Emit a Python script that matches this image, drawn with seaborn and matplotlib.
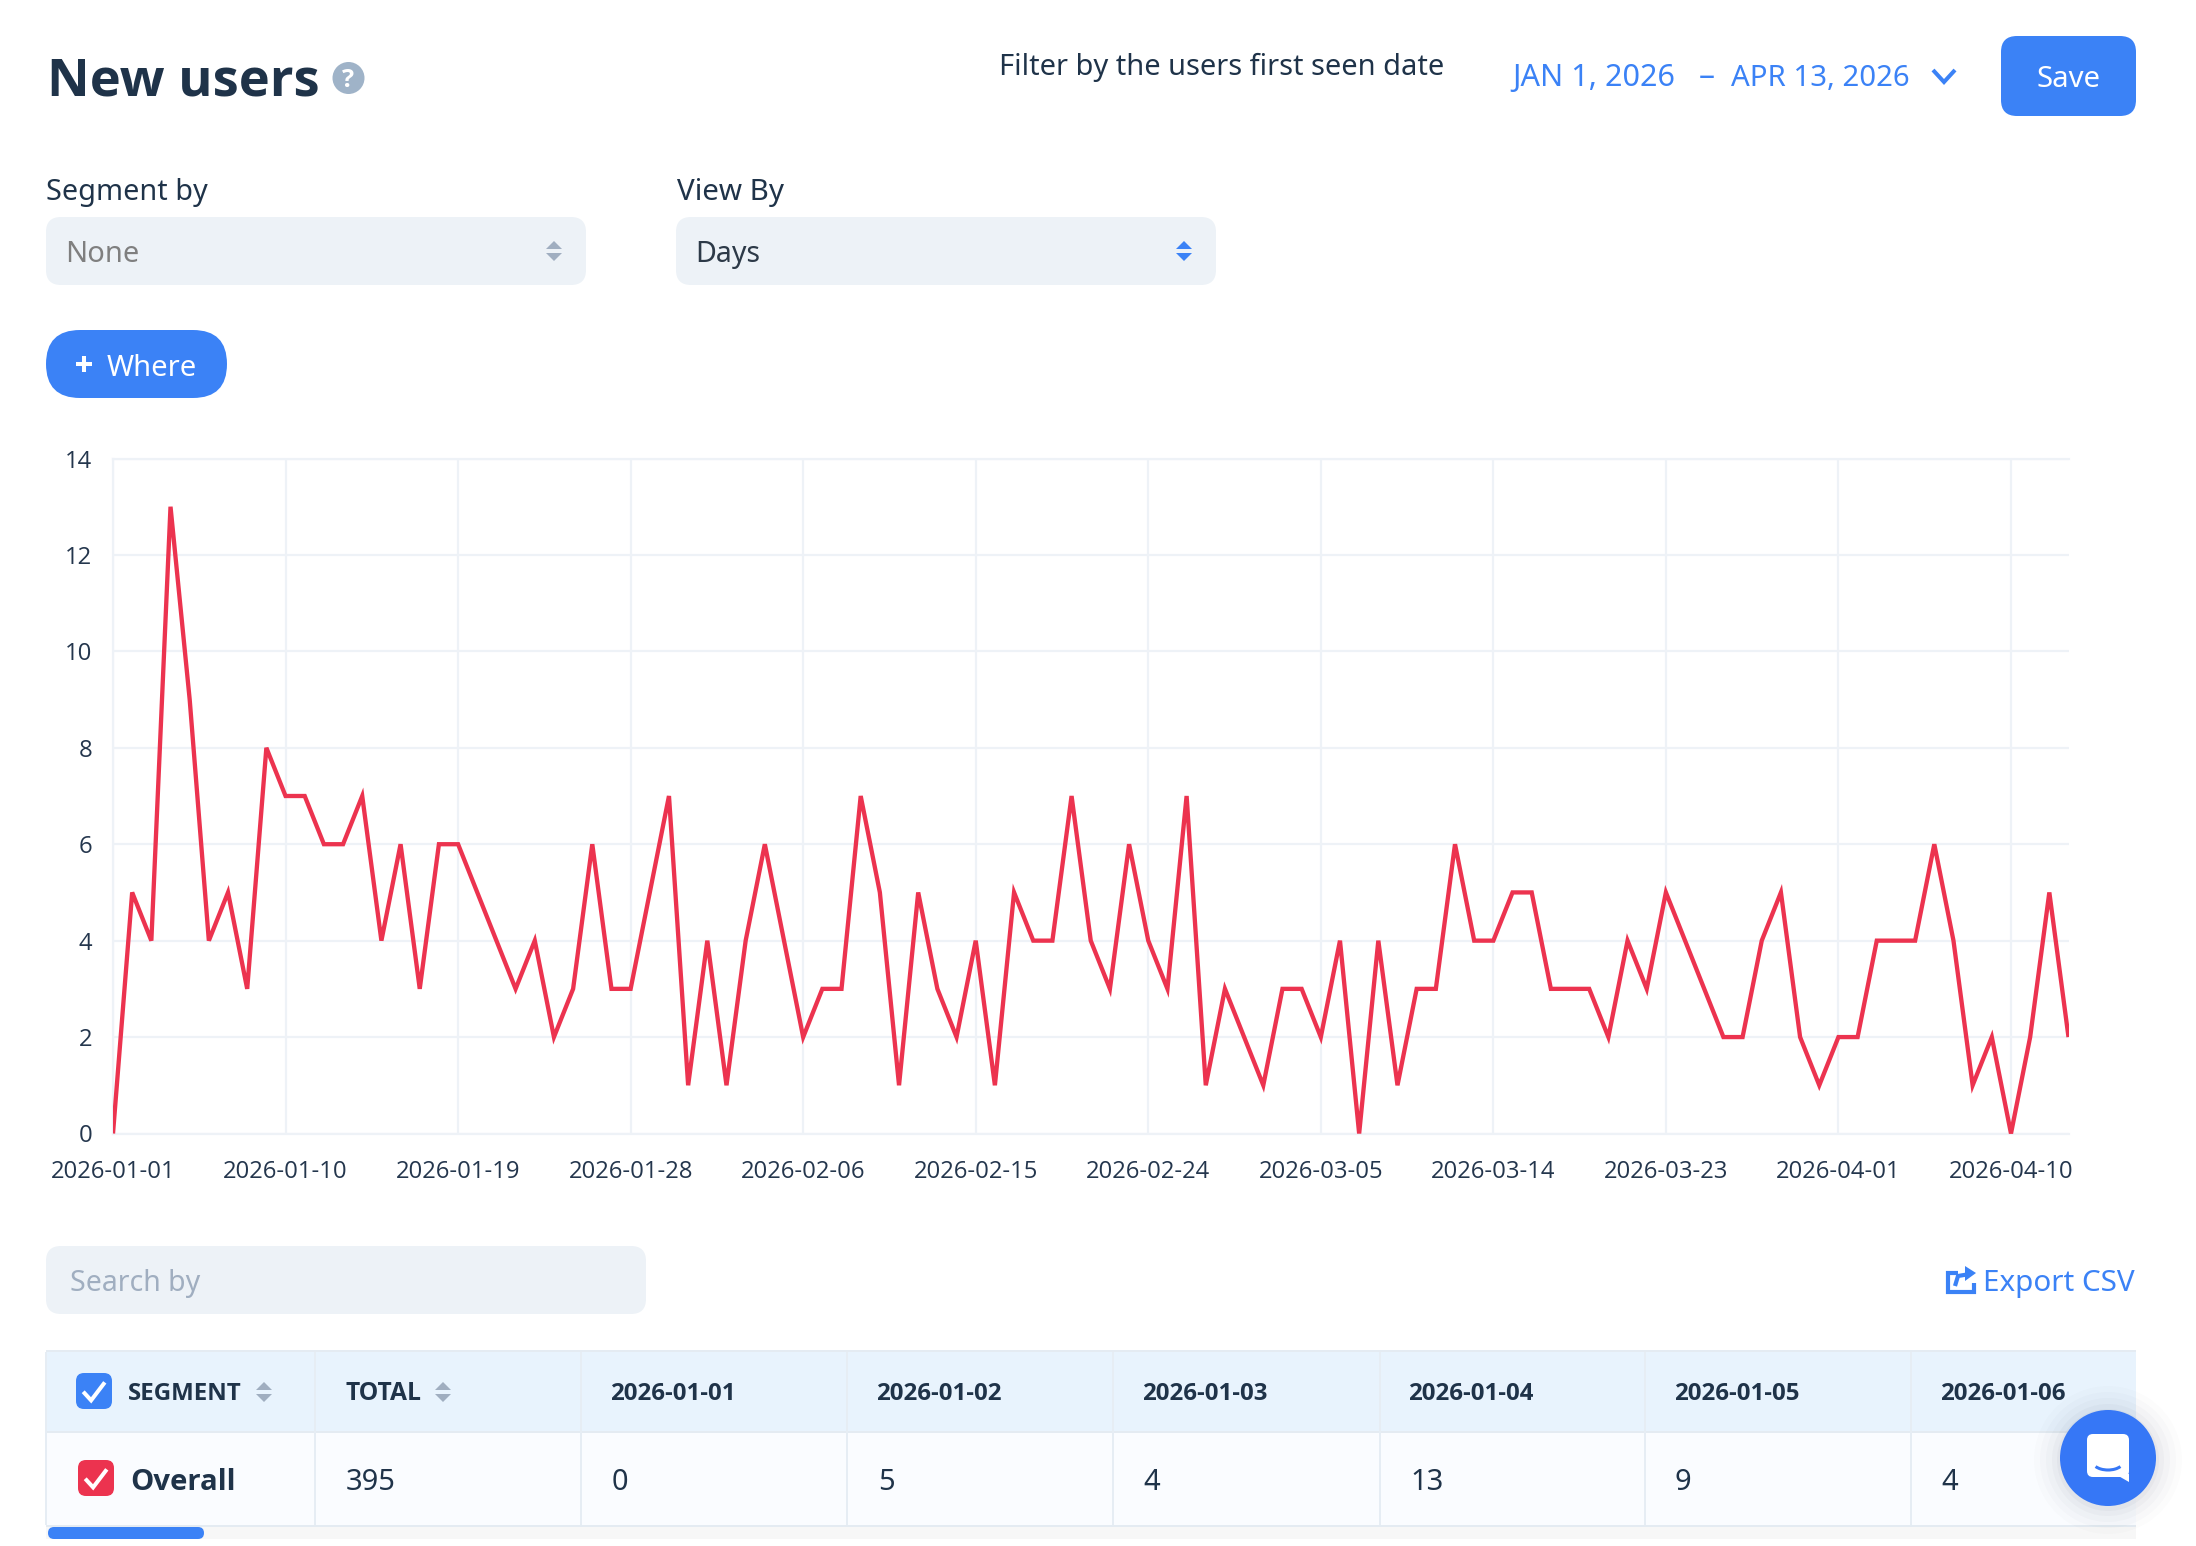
import matplotlib
matplotlib.use("Agg")
import matplotlib.pyplot as plt
import matplotlib.dates as mdates
from matplotlib import font_manager
from matplotlib.lines import Line2D
from matplotlib.patches import Arc, Circle, FancyBboxPatch, Polygon, Rectangle
import pandas as pd
import seaborn as sns

# Daily new users, 2026-01-01 to 2026-04-13
daily_users = [
    0, 5, 4, 13, 9, 4, 5, 3, 8, 7,
    7, 6, 6, 7, 4, 6, 3, 6, 6, 5,
    4, 3, 4, 2, 3, 6, 3, 3, 5, 7,
    1, 4, 1, 4, 6, 4, 2, 3, 3, 7,
    5, 1, 5, 3, 2, 4, 1, 5, 4, 4,
    7, 4, 3, 6, 4, 3, 7, 1, 3, 2,
    1, 3, 3, 2, 4, 0, 4, 1, 3, 3,
    6, 4, 4, 5, 5, 3, 3, 3, 2, 4,
    3, 5, 4, 3, 2, 2, 4, 5, 2, 1,
    2, 2, 4, 4, 4, 6, 4, 1, 2, 0,
    2, 5, 2,
]
start_date = "2026-01-01"
y_ticks = [0, 2, 4, 6, 8, 10, 12, 14]
tick_step_days = 9
table_days_shown = 6

W, H = 2196, 1546
BLUE = "#3b82f6"
RED = "#ec334f"
NAVY = "#1f3349"
GRID = "#eef2f7"
FIELD = "#edf2f7"
MUTED = "#a0aec0"
UI_FONT = ["Noto Sans", "DejaVu Sans"]
AXIS_FONT = ["Open Sans", "DejaVu Sans"]

sns.set_theme(style="white")
plt.rcParams["font.family"] = UI_FONT


def has_real_bold(family):
    return any(f.name == family and f.weight in (700, "bold") for f in font_manager.fontManager.ttflist)


# Headings use the first installed family that ships a true bold face
BOLD_FONT = next((f for f in ["Noto Sans", "Open Sans", "Lato", "Roboto", "Inter", "DejaVu Sans"]
                  if has_real_bold(f)), "DejaVu Sans")

dates = pd.date_range(start_date, periods=len(daily_users), freq="D")
frame = pd.DataFrame({"date": dates, "users": daily_users})

fig = plt.figure(figsize=(W / 100, H / 100), dpi=100, facecolor="white")

# Pixel-space layer for the page controls around the chart
ui = fig.add_axes([0, 0, 1, 1], zorder=1)
ui.set_xlim(0, W)
ui.set_ylim(H, 0)
ui.axis("off")
renderer = fig.canvas.get_renderer()


def fit_text(x, y, s, width, color=NAVY, weight="normal", ha="left", zorder=6):
    """Place text on a baseline, sized so it spans the given pixel width."""
    family = BOLD_FONT if weight == "bold" else UI_FONT
    t = ui.text(x, y, s, color=color, fontweight=weight, family=family, ha=ha, va="baseline",
                fontsize=20, zorder=zorder)
    t.set_fontsize(20 * width / t.get_window_extent(renderer).width)
    return t


def box(x0, y0, x1, y1, radius, color, zorder=2):
    ui.add_patch(FancyBboxPatch((x0, y0), x1 - x0, y1 - y0,
                                boxstyle=f"round,pad=0,rounding_size={radius}",
                                fc=color, ec="none", zorder=zorder))


def rect(x0, y0, x1, y1, color, zorder=1):
    ui.add_patch(Rectangle((x0, y0), x1 - x0, y1 - y0, fc=color, ec="none", zorder=zorder))


def sort_arrows(cx, top, gap_mid, bottom, half, color):
    ui.add_patch(Polygon([(cx - half, gap_mid - 2), (cx + half, gap_mid - 2), (cx, top)],
                         fc=color, ec="none", zorder=5))
    ui.add_patch(Polygon([(cx - half, gap_mid + 2), (cx + half, gap_mid + 2), (cx, bottom)],
                         fc=color, ec="none", zorder=5))


def stroke(xs, ys, color, lw, zorder=6, cap="butt", join="miter"):
    ui.add_line(Line2D(xs, ys, color=color, lw=lw, zorder=zorder,
                       solid_capstyle=cap, solid_joinstyle=join))


def checkbox(x0, y0, size, color):
    box(x0, y0, x0 + size, y0 + size, 8, color, zorder=5)
    stroke([x0 + 0.2 * size, x0 + 0.42 * size, x0 + 0.8 * size],
           [y0 + 0.52 * size, y0 + 0.76 * size, y0 + 0.26 * size], "white", 2.9)


# Page header
fit_text(47, 96, "New users", 272, weight="bold")
ui.add_patch(Circle((348.5, 78), 16, fc="#9fb3c8", ec="none", zorder=3))
fit_text(348.5, 87, "?", 12, color="white", weight="bold", ha="center")
fit_text(999, 75, "Filter by the users first seen date", 446)
fit_text(1512, 86, "JAN 1, 2026", 163, color=BLUE)
fit_text(1699, 86, "–", 16, color=BLUE)
fit_text(1731, 86, "APR 13, 2026", 179, color=BLUE)
stroke([1933, 1944, 1955], [70, 82, 70], BLUE, 2.9)
box(2001, 36, 2136, 116, 16, BLUE)
fit_text(2037, 87, "Save", 64, color="white")

# Segment and view selectors
fit_text(46, 200, "Segment by", 161)
fit_text(677, 200, "View By", 107)
box(46, 217, 586, 285, 15, FIELD)
box(676, 217, 1216, 285, 15, FIELD)
fit_text(65, 262, "None", 74, color="#7f7f7f")
fit_text(695, 262, "Days", 65, color="#2d3a48")
sort_arrows(554, 241, 251, 261, 8, MUTED)
sort_arrows(1184, 241, 251, 261, 8, BLUE)

# Filter button
box(46, 330, 227, 398, 34, BLUE)
stroke([76, 92], [364, 364], "white", 2.9)
stroke([84, 84], [356, 372], "white", 2.9)
fit_text(107, 376, "Where", 90, color="white")

# Search field and export action
box(46, 1246, 646, 1314, 15, FIELD)
fit_text(70, 1291, "Search by", 130, color=MUTED)
fit_text(1983, 1291, "Export CSV", 152, color=BLUE)
stroke([1958, 1948, 1948, 1974, 1974], [1273, 1273, 1292, 1292, 1283], BLUE, 3.0)
stroke([1955, 1958, 1970], [1286, 1276, 1274], BLUE, 3.0)
ui.add_patch(Polygon([(1965, 1266), (1976, 1273), (1965, 1281)], fc=BLUE, ec="none", zorder=5))

# Table frame
TABLE_L, TABLE_R = 46, 2136
column_edges = [315, 581, 847, 1113, 1380, 1645, 1911]
header_text_x = [610, 876, 1142, 1408, 1674, 1940]
cell_text_x = [612, 878, 1143, 1410, 1675, 1941]
rect(TABLE_L, 1350, TABLE_R, 1352, "#e4ebf2")
rect(TABLE_L, 1352, TABLE_R, 1431, "#e8f3fd")
rect(TABLE_L, 1431, TABLE_R, 1433, "#e4ebf2")
rect(TABLE_L, 1433, TABLE_R, 1525, "#fafcff")
rect(TABLE_L, 1525, TABLE_R, 1527, "#e4ebf2")
rect(TABLE_L, 1527, TABLE_R, 1539, "#f7f7f7")
box(48, 1527, 204, 1539, 6, BLUE, zorder=3)
for edge in [TABLE_L] + column_edges:
    rect(edge - 1, 1352, edge + 1, 1525, "#e6edf4", zorder=2)

checkbox(76, 1373, 36, BLUE)
fit_text(128, 1400, "SEGMENT", 114, weight="bold")
sort_arrows(264, 1382, 1392, 1402, 8, MUTED)
fit_text(345, 1400, "TOTAL", 76, weight="bold")
sort_arrows(443, 1382, 1392, 1402, 8, MUTED)

checkbox(78, 1460, 36, RED)
fit_text(130, 1490, "Overall", 105, weight="bold")
total_label = fit_text(346, 1490, str(sum(daily_users)), 50)
cell_size = total_label.get_fontsize()

for i in range(table_days_shown):
    fit_text(header_text_x[i], 1400, dates[i].strftime("%Y-%m-%d"), 125, weight="bold")
    ui.text(cell_text_x[i], 1490, str(daily_users[i]), color=NAVY, fontsize=cell_size,
            ha="left", va="baseline", zorder=6)

# Chat launcher with its soft shadow
for grow, alpha in [(26, 0.012), (20, 0.016), (14, 0.02), (8, 0.026), (3, 0.03)]:
    ui.add_patch(Circle((2108, 1460), 48 + grow, fc="#1a2a44", ec="none", alpha=alpha, zorder=7))
ui.add_patch(Circle((2108, 1458), 48, fc="#3677f6", ec="none", zorder=8))
box(2087, 1434, 2129, 1477, 6, "white", zorder=9)
ui.add_patch(Polygon([(2115, 1474), (2129, 1474), (2129, 1482)], fc="white", ec="none", zorder=9))
ui.add_patch(Arc((2108, 1462), 30, 16, theta1=20, theta2=160, ec="#3677f6", lw=2.2, zorder=10))

# Line chart of daily new users
PLOT_L, PLOT_R, PLOT_T, PLOT_B = 113, 2068.5, 458.5, 1133.5
ax = fig.add_axes([PLOT_L / W, 1 - PLOT_B / H, (PLOT_R - PLOT_L) / W, (PLOT_B - PLOT_T) / H],
                  zorder=2)
ax.set_facecolor("none")
sns.lineplot(data=frame, x="date", y="users", color=RED, linewidth=3.1, ax=ax, zorder=3,
             solid_joinstyle="miter", solid_capstyle="butt", errorbar=None)
ax.set_xlim(dates[0], dates[-1])
ax.set_ylim(y_ticks[0], y_ticks[-1])
ax.set_xlabel("")
ax.set_ylabel("")
ax.set_yticks(y_ticks)
ax.set_xticks(list(dates[::tick_step_days]))
ax.xaxis.set_major_formatter(mdates.DateFormatter("%Y-%m-%d"))
ax.grid(True, color=GRID, linewidth=1.6)
ax.set_axisbelow(True)
ax.tick_params(axis="both", length=10, width=1.4, color=GRID, labelcolor="#24364d",
               labelsize=17.2)
ax.tick_params(axis="x", pad=9)
ax.tick_params(axis="y", pad=5)
for label in ax.get_xticklabels() + ax.get_yticklabels():
    label.set_fontfamily(AXIS_FONT)
for side, spine in ax.spines.items():
    spine.set_visible(side != "right")
    spine.set_color(GRID)
    spine.set_linewidth(1.6)

fig.savefig("out.png", dpi=100, facecolor="white")
